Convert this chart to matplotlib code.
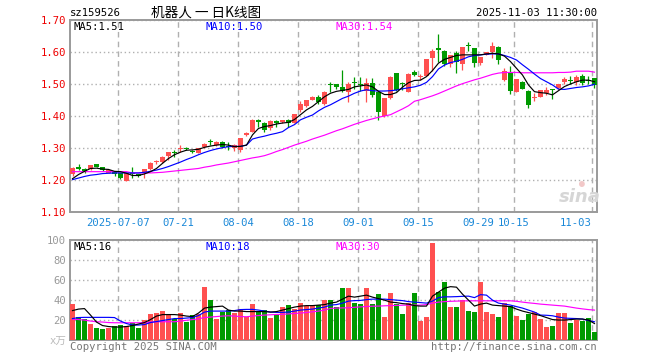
import matplotlib
matplotlib.use("Agg")
import matplotlib.pyplot as plt

plt.rcParams['font.family'] = ['DejaVu Sans Mono', 'Noto Sans CJK SC']

# ---------------- data ----------------
dates = [
    "2025-06-25", "2025-06-26", "2025-06-27", "2025-06-30",
    "2025-07-01", "2025-07-02", "2025-07-03", "2025-07-04", "2025-07-07", "2025-07-08",
    "2025-07-09", "2025-07-10", "2025-07-11", "2025-07-14", "2025-07-15", "2025-07-16",
    "2025-07-17", "2025-07-18", "2025-07-21", "2025-07-22", "2025-07-23", "2025-07-24",
    "2025-07-25", "2025-07-28", "2025-07-29", "2025-07-30", "2025-07-31",
    "2025-08-01", "2025-08-04", "2025-08-05", "2025-08-06", "2025-08-07", "2025-08-08",
    "2025-08-11", "2025-08-12", "2025-08-13", "2025-08-14", "2025-08-15", "2025-08-18",
    "2025-08-19", "2025-08-20", "2025-08-21", "2025-08-22", "2025-08-25", "2025-08-26",
    "2025-08-27", "2025-08-28", "2025-08-29",
    "2025-09-01", "2025-09-02", "2025-09-03", "2025-09-04", "2025-09-05", "2025-09-08",
    "2025-09-09", "2025-09-10", "2025-09-11", "2025-09-12", "2025-09-15", "2025-09-16",
    "2025-09-17", "2025-09-18", "2025-09-19", "2025-09-22", "2025-09-23", "2025-09-24",
    "2025-09-25", "2025-09-26", "2025-09-29", "2025-09-30",
    "2025-10-09", "2025-10-10", "2025-10-13", "2025-10-14", "2025-10-15", "2025-10-16",
    "2025-10-17", "2025-10-20", "2025-10-21", "2025-10-22", "2025-10-23", "2025-10-24",
    "2025-10-27", "2025-10-28", "2025-10-29", "2025-10-30", "2025-10-31",
    "2025-11-03",
]

opens = [1.220, 1.243, 1.234, 1.234, 1.250, 1.242, 1.224, 1.225, 1.222, 1.199,
         1.222, 1.218, 1.222, 1.234, 1.258, 1.256, 1.277, 1.288, 1.299, 1.302,
         1.293, 1.285, 1.303, 1.322, 1.310, 1.321, 1.306, 1.302, 1.295, 1.342,
         1.352, 1.389, 1.380, 1.365, 1.385, 1.381, 1.390, 1.380, 1.420, 1.432,
         1.451, 1.461, 1.438, 1.500, 1.500, 1.492, 1.475, 1.506, 1.500, 1.480,
         1.505, 1.476, 1.400, 1.456, 1.534, 1.503, 1.477, 1.537, 1.522, 1.527,
         1.581, 1.612, 1.605, 1.564, 1.598, 1.564, 1.621, 1.613, 1.566, 1.592,
         1.600, 1.618, 1.514, 1.536, 1.477, 1.508, 1.480, 1.458, 1.461, 1.474,
         1.483, 1.487, 1.506, 1.513, 1.506, 1.527, 1.513, 1.519]
highs = [1.242, 1.251, 1.240, 1.248, 1.251, 1.243, 1.233, 1.228, 1.223, 1.223,
         1.241, 1.220, 1.236, 1.257, 1.262, 1.276, 1.288, 1.296, 1.310, 1.303,
         1.294, 1.301, 1.316, 1.330, 1.322, 1.322, 1.319, 1.312, 1.333, 1.350,
         1.392, 1.393, 1.381, 1.389, 1.387, 1.390, 1.391, 1.408, 1.448, 1.452,
         1.462, 1.466, 1.478, 1.507, 1.500, 1.545, 1.508, 1.524, 1.524, 1.520,
         1.520, 1.477, 1.458, 1.526, 1.536, 1.508, 1.535, 1.545, 1.532, 1.580,
         1.611, 1.656, 1.606, 1.592, 1.603, 1.618, 1.632, 1.614, 1.586, 1.602,
         1.632, 1.620, 1.550, 1.557, 1.518, 1.509, 1.481, 1.474, 1.483, 1.492,
         1.484, 1.501, 1.523, 1.527, 1.530, 1.532, 1.527, 1.519]
lows = [1.215, 1.232, 1.222, 1.232, 1.241, 1.229, 1.222, 1.215, 1.203, 1.197,
        1.207, 1.210, 1.206, 1.232, 1.250, 1.255, 1.265, 1.272, 1.290, 1.296,
        1.285, 1.284, 1.301, 1.310, 1.306, 1.302, 1.295, 1.293, 1.290, 1.338,
        1.350, 1.368, 1.352, 1.358, 1.368, 1.378, 1.366, 1.378, 1.413, 1.430,
        1.450, 1.440, 1.435, 1.476, 1.485, 1.476, 1.445, 1.485, 1.480, 1.446,
        1.460, 1.389, 1.398, 1.455, 1.480, 1.482, 1.475, 1.525, 1.513, 1.525,
        1.542, 1.569, 1.556, 1.553, 1.534, 1.546, 1.605, 1.555, 1.560, 1.590,
        1.582, 1.563, 1.509, 1.471, 1.476, 1.484, 1.427, 1.448, 1.459, 1.466,
        1.454, 1.486, 1.500, 1.500, 1.498, 1.498, 1.500, 1.488]
closes = [1.240, 1.235, 1.229, 1.247, 1.242, 1.232, 1.232, 1.221, 1.206, 1.222,
          1.221, 1.215, 1.234, 1.255, 1.259, 1.274, 1.288, 1.286, 1.300, 1.297,
          1.289, 1.300, 1.315, 1.320, 1.320, 1.303, 1.304, 1.310, 1.331, 1.347,
          1.390, 1.381, 1.357, 1.386, 1.380, 1.390, 1.378, 1.407, 1.438, 1.451,
          1.461, 1.446, 1.477, 1.498, 1.492, 1.478, 1.501, 1.503, 1.498, 1.505,
          1.466, 1.412, 1.456, 1.524, 1.482, 1.500, 1.532, 1.528, 1.527, 1.579,
          1.605, 1.608, 1.564, 1.590, 1.569, 1.616, 1.619, 1.566, 1.584, 1.600,
          1.621, 1.576, 1.543, 1.480, 1.517, 1.486, 1.435, 1.460, 1.482, 1.482,
          1.481, 1.500, 1.518, 1.511, 1.524, 1.505, 1.511, 1.498]

ma5 = [1.205, 1.218, 1.228, 1.237, 1.238, 1.235, 1.234, 1.228, 1.227, 1.222,
       1.215, 1.215, 1.220, 1.227, 1.237, 1.253, 1.268, 1.280, 1.288, 1.294,
       1.295, 1.297, 1.303, 1.307, 1.310, 1.312, 1.310, 1.305, 1.306, 1.310,
       1.342, 1.362, 1.368, 1.371, 1.376, 1.379, 1.381, 1.390, 1.405, 1.420,
       1.431, 1.446, 1.461, 1.472, 1.478, 1.481, 1.484, 1.492, 1.495, 1.498,
       1.492, 1.478, 1.468, 1.468, 1.474, 1.491, 1.505, 1.512, 1.513, 1.524,
       1.543, 1.566, 1.578, 1.584, 1.590, 1.592, 1.592, 1.592, 1.592, 1.595,
       1.597, 1.595, 1.588, 1.571, 1.550, 1.529, 1.498, 1.477, 1.474, 1.472,
       1.467, 1.480, 1.493, 1.501, 1.508, 1.513, 1.513, 1.508]
ma10 = [1.202, 1.207, 1.212, 1.216, 1.218, 1.221, 1.222, 1.223, 1.223, 1.223,
        1.223, 1.223, 1.225, 1.228, 1.232, 1.237, 1.243, 1.250, 1.257, 1.265,
        1.272, 1.280, 1.287, 1.293, 1.298, 1.302, 1.305, 1.306, 1.306, 1.310,
        1.329, 1.334, 1.338, 1.343, 1.347, 1.352, 1.365, 1.374, 1.389, 1.397,
        1.404, 1.417, 1.428, 1.436, 1.446, 1.456, 1.463, 1.472, 1.479, 1.483,
        1.480, 1.479, 1.479, 1.480, 1.482, 1.486, 1.489, 1.492, 1.497, 1.506,
        1.524, 1.548, 1.560, 1.568, 1.572, 1.578, 1.586, 1.590, 1.592, 1.594,
        1.595, 1.595, 1.590, 1.584, 1.576, 1.561, 1.547, 1.532, 1.518, 1.508,
        1.498, 1.485, 1.484, 1.487, 1.490, 1.492, 1.495, 1.500]
ma30 = [1.227, 1.227, 1.227, 1.227, 1.227, 1.227, 1.227, 1.227, 1.227, 1.227,
        1.223, 1.223, 1.223, 1.223, 1.224, 1.225, 1.227, 1.229, 1.231, 1.233,
        1.235, 1.237, 1.241, 1.244, 1.248, 1.251, 1.254, 1.258, 1.262, 1.266,
        1.270, 1.273, 1.277, 1.283, 1.290, 1.296, 1.303, 1.310, 1.316, 1.322,
        1.329, 1.335, 1.341, 1.348, 1.355, 1.361, 1.368, 1.375, 1.381, 1.387,
        1.392, 1.397, 1.401, 1.405, 1.414, 1.423, 1.433, 1.447, 1.452, 1.458,
        1.464, 1.471, 1.479, 1.487, 1.495, 1.502, 1.508, 1.514, 1.519, 1.525,
        1.531, 1.535, 1.537, 1.537, 1.537, 1.536, 1.536, 1.536, 1.536, 1.536,
        1.536, 1.537, 1.537, 1.538, 1.541, 1.541, 1.541, 1.538]

volumes = [36.0, 23.3, 21.3, 16.0, 12.0, 11.0, 12.0, 14.3, 15.3, 14.0,
           17.3, 12.0, 20.0, 26.3, 27.0, 29.0, 25.0, 20.7, 27.0, 18.3,
           24.7, 25.7, 53.3, 40.0, 21.0, 28.3, 29.7, 27.0, 31.0, 23.3,
           36.0, 29.0, 29.7, 22.3, 24.7, 33.3, 35.0, 31.0, 37.0, 34.0,
           34.0, 35.0, 40.0, 40.0, 33.3, 52.3, 52.3, 36.7, 36.0, 52.3,
           36.0, 46.0, 23.3, 47.0, 36.0, 26.0, 36.7, 47.0, 19.3, 23.3,
           97.0, 47.7, 58.3, 33.3, 33.3, 40.0, 29.0, 28.0, 58.3, 28.0,
           26.0, 23.0, 37.0, 34.0, 24.0, 20.0, 26.0, 28.0, 21.0, 13.0,
           14.3, 27.0, 27.0, 17.0, 20.0, 19.0, 21.7, 8.0]
vol_ma5 = [29.5, 31.0, 31.5, 25.0, 18.0, 14.5, 13.5, 13.0, 13.0, 13.5,
           14.5, 16.0, 17.5, 20.5, 24.0, 25.5, 25.5, 25.5, 25.0, 24.0,
           23.5, 27.0, 32.0, 33.0, 33.5, 34.0, 30.0, 29.0, 29.0, 28.5,
           28.5, 28.5, 28.5, 28.0, 28.5, 30.0, 31.5, 33.0, 34.0, 34.5,
           34.5, 35.0, 35.5, 37.0, 38.0, 41.0, 44.0, 43.0, 44.0, 45.0,
           43.0, 41.5, 40.0, 38.0, 37.5, 36.5, 36.0, 34.5, 34.0, 34.0,
           44.0, 48.0, 52.0, 53.5, 53.0, 46.0, 40.0, 34.0, 36.0, 37.0,
           35.0, 34.5, 34.0, 33.5, 31.0, 29.0, 27.5, 26.0, 24.5, 22.5,
           20.5, 20.0, 20.0, 20.5, 21.0, 21.0, 20.0, 16.5]
vol_ma10 = [21.5, 22.5, 22.7, 22.7, 22.7, 22.7, 22.7, 22.5, 19.0, 16.5,
            15.0, 15.0, 15.5, 17.5, 18.5, 19.5, 20.5, 21.5, 21.5, 22.0,
            22.5, 24.5, 28.0, 29.0, 29.0, 29.0, 29.0, 29.5, 30.5, 30.7,
            30.7, 30.0, 29.0, 28.0, 27.7, 27.7, 28.0, 29.0, 30.0, 30.5,
            31.0, 32.0, 33.0, 35.0, 35.5, 37.0, 39.0, 39.5, 39.7, 40.5,
            41.0, 41.0, 41.0, 40.5, 40.0, 39.5, 38.5, 38.0, 37.5, 37.0,
            39.0, 42.5, 43.3, 43.3, 43.5, 43.8, 44.0, 42.5, 45.5, 45.0,
            40.0, 37.0, 36.0, 35.0, 33.5, 32.0, 30.0, 28.0, 25.0, 24.8,
            24.3, 23.0, 22.0, 21.7, 21.5, 21.0, 19.5, 18.3]
vol_ma30 = [21.0, 20.5, 20.0, 19.0, 18.3, 18.0, 17.5, 17.3, 17.3, 17.3,
            17.3, 17.3, 17.5, 18.0, 18.3, 18.3, 18.3, 18.3, 19.0, 19.8,
            20.5, 21.3, 22.5, 23.0, 23.5, 24.0, 24.3, 24.0, 23.5, 23.3,
            24.0, 24.5, 25.0, 25.3, 25.6, 25.8, 26.2, 26.6, 27.0, 27.6,
            28.3, 29.0, 30.0, 31.7, 32.0, 32.2, 32.3, 32.8, 33.2, 33.6,
            33.9, 34.0, 34.3, 34.5, 34.7, 34.9, 35.0, 35.0, 35.0, 35.5,
            37.0, 38.0, 38.5, 38.8, 39.0, 39.2, 39.3, 39.3, 39.3, 39.3,
            39.3, 39.3, 39.3, 39.3, 38.8, 38.0, 37.3, 36.7, 36.0, 35.5,
            35.0, 34.5, 34.0, 33.0, 32.0, 31.2, 30.5, 30.0]

tick_dates = ["2025-07-07", "2025-07-21", "2025-08-04", "2025-08-18", "2025-09-01",
              "2025-09-15", "2025-09-29", "2025-10-15", "2025-11-03"]
tick_labels = ["2025-07-07", "07-21", "08-04", "08-18", "09-01",
               "09-15", "09-29", "10-15", "11-03"]
price_ticks = [1.10, 1.20, 1.30, 1.40, 1.50, 1.60, 1.70]
vol_ticks = [20, 40, 60, 80, 100]

symbol = "sz159526"
title = "机器人 一 日K线图"
stamp = "2025-11-03 11:30:00"

# ---------------- style ----------------
W, H = 660, 360
RED = "#ff5050"
GREEN = "#009a00"
FRAME = "#9a9a9a"
GRID = "#b0b0b0"
DATEC = "#1a88d8"
MONO = ["DejaVu Sans Mono"]


def fx(x):
    return x / W


def fy(y):
    return 1 - y / H


fig = plt.figure(figsize=(W / 100, H / 100), dpi=100)
fig.patch.set_facecolor("white")

L, R = 70, 597
ax = fig.add_axes([fx(L), fy(212.3), fx(R - L), (212.3 - 20.3) / H])
axv = fig.add_axes([fx(L), fy(340), fx(R - L), (340 - 240.3) / H])

n = len(dates)
xs = list(range(n))
bw = 5 / 6
ups = [c >= o for o, c in zip(opens, closes)]
cols = [RED if u else GREEN for u in ups]

# candles
for i in xs:
    ax.vlines(i, lows[i], highs[i], color=cols[i], lw=0.9, zorder=3)
    bot = min(opens[i], closes[i])
    h = max(abs(closes[i] - opens[i]), 0.0032)
    ax.bar(i, h, bottom=bot, width=bw, color=cols[i], lw=0, zorder=4)

ax.plot(xs, ma30, color="#ff00ff", lw=0.85, zorder=5)
ax.plot(xs, ma10, color="#0000ff", lw=0.85, zorder=5)
ax.plot(xs, ma5, color="#000000", lw=0.85, zorder=5)

# volume
axv.bar(xs, volumes, width=bw, color=cols, lw=0, zorder=3)
axv.plot(xs, vol_ma30, color="#ff00ff", lw=0.85, zorder=5)
axv.plot(xs, vol_ma10, color="#0000ff", lw=0.85, zorder=5)
axv.plot(xs, vol_ma5, color="#000000", lw=0.85, zorder=5)

xmin, xmax = -0.417, n - 1 + 0.42
tick_pos = [dates.index(d) - 0.417 for d in tick_dates]

for a in (ax, axv):
    a.set_xlim(xmin, xmax)
    for s in a.spines.values():
        s.set_color(FRAME)
        s.set_linewidth(1.4)
    a.set_xticks(tick_pos)
    a.xaxis.grid(True, color=GRID, lw=1.0, linestyle=(0, (4, 3)))
    a.yaxis.grid(True, color=GRID, lw=1.0, linestyle=(0, (1, 2)))
    a.set_axisbelow(True)
    a.tick_params(length=0)

ax.set_ylim(1.10, 1.70)
ax.set_yticks(price_ticks)
ax.set_yticklabels(["%.2f" % t for t in price_ticks], color="#ee0000",
                   fontsize=7.6, family=MONO)
ax.tick_params(axis="y", pad=3)
ax.set_xticklabels(tick_labels, color=DATEC, fontsize=7.6, family=MONO)
ax.tick_params(axis="x", pad=4)
ax.get_xticklabels()[-1].set_horizontalalignment("right")

axv.set_ylim(0, 100)
axv.set_yticks(vol_ticks)
axv.set_yticklabels([str(t) for t in vol_ticks], color="#999999",
                    fontsize=7.6, family=MONO)
axv.tick_params(axis="y", pad=3)
axv.set_xticklabels([])

# header texts
fig.text(fx(70), fy(13), symbol, fontsize=7.6, family=MONO, va="center", ha="left")
fig.text(fx(151), fy(13), title, fontsize=9.8, family=["Noto Sans CJK SC"],
         va="center", ha="left")
fig.text(fx(597), fy(13), stamp, fontsize=7.6, family=MONO, va="center", ha="right")

# legends
fig.text(fx(73), fy(27), "MA5:%.2f" % ma5[-1], fontsize=7.6, family=MONO,
         va="center", color="black")
fig.text(fx(205), fy(27), "MA10:%.2f" % ma10[-1], fontsize=7.6, family=MONO,
         va="center", color="#0000ff")
fig.text(fx(335), fy(27), "MA30:%.2f" % ma30[-1], fontsize=7.6, family=MONO,
         va="center", color="#ff00ff")
fig.text(fx(74), fy(247), "MA5:%d" % round(vol_ma5[-1]), fontsize=7.6, family=MONO,
         va="center", color="black")
fig.text(fx(205), fy(247), "MA10:%d" % round(vol_ma10[-1]), fontsize=7.6, family=MONO,
         va="center", color="#0000ff")
fig.text(fx(335), fy(247), "MA30:%d" % round(vol_ma30[-1]), fontsize=7.6, family=MONO,
         va="center", color="#ff00ff")

# volume unit & footer
fig.text(fx(66), fy(341), "x万", fontsize=7.6, family=["DejaVu Sans Mono", "Noto Sans CJK SC"],
         va="center", ha="right", color="#bbbbbb")
fig.text(fx(70), fy(347), "Copyright 2025 SINA.COM", fontsize=7.6, family=MONO,
         va="center", ha="left", color="#777777")
fig.text(fx(597), fy(347), "http://finance.sina.com.cn", fontsize=7.6, family=MONO,
         va="center", ha="right", color="#777777")

# watermark
fig.text(fx(580), fy(197), "sina", fontsize=13, style="italic", weight="bold",
         family=["DejaVu Sans"], color="#d6d6d6", ha="center", va="center", zorder=1)
fig.text(fx(582), fy(184), "●", fontsize=7, color="#f2c8c8", ha="center", va="center")

fig.savefig("out.png", dpi=100, facecolor="white")
